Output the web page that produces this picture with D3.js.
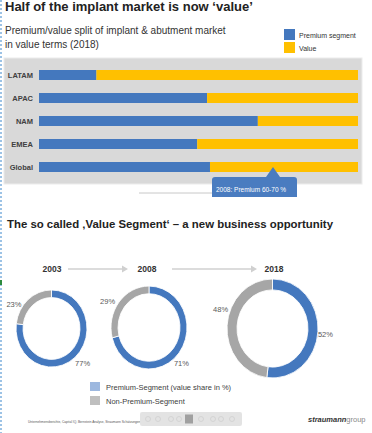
<!DOCTYPE html>
<html><head><meta charset="utf-8">
<script src="https://cdn.jsdelivr.net/npm/d3@7"></script>
<style>
html,body{margin:0;padding:0;background:#fff;}
svg{display:block;font-family:"Liberation Sans",Arial,sans-serif;}
</style></head>
<body>
<svg id="c" width="372" height="433"></svg>
<script>
// ---------- data ----------
const regions = ["LATAM", "APAC", "NAM", "EMEA", "Global"];
const premiumShare = [18, 52.7, 68.6, 49.6, 53.6];   // % premium (blue)
const valueShare = premiumShare.map(p => 100 - p);    // remainder (yellow)
const barLegend = ["Premium segment", "Value"];
const years = ["2003", "2008", "2018"];
const premiumByYear = [77, 71, 52];
const nonPremiumByYear = [23, 29, 48];
const donutLegend = ["Premium-Segment (value share in %)", "Non-Premium-Segment"];
const callout = "2008: Premium 60-70 %";

// ---------- styles ----------
const BLUE = "#4478be", YELLOW = "#ffc000", GREY = "#a6a6a6";
const svg = d3.select("#c");

// left dashed guide (slide editor)
svg.append("line").attr("x1",1).attr("x2",1).attr("y1",0).attr("y2",433)
  .attr("stroke","#5b9bd5").attr("stroke-width",1.2).attr("stroke-dasharray","2,2");
svg.append("rect").attr("x",0).attr("y",280).attr("width",2).attr("height",5).attr("fill","#2e8b3e");

// titles
svg.append("text").attr("x",5).attr("y",10.5).attr("font-size",13).attr("font-weight","bold")
  .attr("fill","#222").text("Half of the implant market is now \u2018value\u2019");
svg.append("text").attr("x",5).attr("y",34).attr("font-size",10).attr("fill","#333")
  .text("Premium/value split of implant & abutment market");
svg.append("text").attr("x",5).attr("y",48).attr("font-size",10).attr("fill","#333")
  .text("in value terms (2018)");

// top legend
const lg = svg.append("g");
barLegend.forEach((t,i)=>{
  lg.append("rect").attr("x",284).attr("y",29+i*13).attr("width",11).attr("height",11)
    .attr("fill",[BLUE,YELLOW][i]);
  lg.append("text").attr("x",299).attr("y",37.5+i*13).attr("font-size",7).attr("fill","#333").text(t);
});

// panel
svg.append("rect").attr("x",4).attr("y",58).attr("width",358).attr("height",126)
  .attr("fill","#d9d9d9").attr("stroke","#ececec").attr("stroke-width",1);

const x = d3.scaleLinear().domain([0,100]).range([39,358]);
const y = d3.scalePoint().domain(regions).range([75,167]);
const barH = 10;
const bars = svg.append("g");
regions.forEach((r,i)=>{
  bars.append("rect").attr("x",x(0)).attr("y",y(r)-barH/2).attr("width",x(premiumShare[i])-x(0))
    .attr("height",barH).attr("fill",BLUE);
  bars.append("rect").attr("x",x(premiumShare[i])).attr("y",y(r)-barH/2)
    .attr("width",x(premiumShare[i]+valueShare[i])-x(premiumShare[i])).attr("height",barH).attr("fill",YELLOW);
});
const yAxis = svg.append("g").attr("transform",`translate(${x(0)-5},0)`)
  .call(d3.axisLeft(y).tickSize(0).tickPadding(1));
yAxis.select(".domain").remove();
yAxis.selectAll("text").attr("font-size",7.5).attr("font-weight","bold").attr("fill","#404040")
  .attr("font-family","Liberation Sans, Arial, sans-serif");

// callout
svg.append("line").attr("x1",139).attr("x2",212).attr("y1",193).attr("y2",193).attr("stroke","#c8c8c8");
svg.append("path").attr("d","M212,180 Q212,177 215,177 L266,177 L273,167 L280,177 L294,177 Q297,177 297,180 L297,197 L212,197 Z")
  .attr("fill","#4a7cc0");
svg.append("text").attr("x",216).attr("y",191.5).attr("font-size",6.5).attr("fill","#fff").text(callout);

// section 2 title
svg.append("text").attr("x",7).attr("y",228).attr("font-size",11.4).attr("font-weight","bold")
  .attr("fill","#222").text("The so called \u201AValue Segment\u2018 \u2013 a new business opportunity");

// years + arrows
const yearCx = [52,147,274];
years.forEach((yr,i)=>{
  svg.append("text").attr("x",yearCx[i]).attr("y",272).attr("text-anchor","middle")
    .attr("font-size",8.5).attr("font-weight","bold").attr("fill","#333").text(yr);
});
const arrows = [[68,128],[172,257]];
arrows.forEach(a=>{
  svg.append("line").attr("x1",a[0]).attr("x2",a[1]-3).attr("y1",269).attr("y2",269)
    .attr("stroke","#d0d0d0").attr("stroke-width",1.5);
  svg.append("path").attr("d",`M${a[1]},269 L${a[1]-6},265.5 L${a[1]-6},272.5 Z`).attr("fill","#d0d0d0");
});

// donuts
const donutGeo = [
  {cx:51.5, cy:328.5, r:35.5, w:7, sy:1.085},
  {cx:149, cy:327.5, r:38, w:7, sy:1.09},
  {cx:272.5, cy:328.5, r:45.5, w:10, sy:1.088}
];
// manual label offsets from the default outside position (as placed on the slide)
const labelNudge = [
  [{dx:-6.5,dy:-2.5},{dx:0,dy:12.5}],
  [{dx:-13,dy:3.5},{dx:4,dy:5.5}],
  [{dx:-10,dy:1.7},{dx:11,dy:-15.5}]
];
const pie = d3.pie().sort(null).value(d=>d);
years.forEach((yr,i)=>{
  const g = donutGeo[i];
  const data = pie([premiumByYear[i], nonPremiumByYear[i]]);
  const arc = d3.arc().innerRadius(g.r-g.w).outerRadius(g.r);
  const gg = svg.append("g").attr("transform",`translate(${g.cx},${g.cy}) scale(1,${g.sy})`);
  gg.selectAll("path").data(data).join("path").attr("d",arc)
    .attr("fill",(d,j)=>j===0?BLUE:GREY).attr("stroke","#fff").attr("stroke-width",0.8);
  data.forEach((d,j)=>{
    const a = (d.startAngle+d.endAngle)/2;
    const R = g.r + 10;
    const px = g.cx + Math.sin(a)*R + labelNudge[i][j].dx;
    const py = g.cy - Math.cos(a)*R*g.sy + labelNudge[i][j].dy;
    svg.append("text").attr("x",px).attr("y",py).attr("dy","0.35em")
      .attr("text-anchor", Math.sin(a)>=0 ? "start":"end")
      .attr("font-size",7.5).attr("fill","#595959").text(d.data+"%");
  });
});

// bottom legend
donutLegend.forEach((t,i)=>{
  svg.append("rect").attr("x",90).attr("y",382+i*14).attr("width",10).attr("height",9)
    .attr("fill",["#9db8df","#bfbfbf"][i]);
  svg.append("text").attr("x",106).attr("y",389.5+i*14).attr("font-size",7.5).attr("fill","#404040").text(t);
});

// footer
svg.append("text").attr("x",28).attr("y",423).attr("font-size",3.2).attr("fill","#555")
  .text("Unternehmensberichte, Capital IQ, Bernstein Analyse, Straumann Sch\u00e4tzungen");
const tb = svg.append("g");
tb.append("rect").attr("x",140).attr("y",412).attr("width",102).attr("height",14).attr("rx",2)
  .attr("fill","#e0e0e0").attr("opacity",0.9);
tb.append("rect").attr("x",185).attr("y",414.5).attr("width",8).attr("height",9).attr("fill","#a0a0a0");
[148,158,171,179,201,213,221,232].forEach(cx=>{
  tb.append("circle").attr("cx",cx).attr("cy",419).attr("r",2.5).attr("fill","none").attr("stroke","#cfcfcf").attr("stroke-width",0.8);
});
const logo = svg.append("text").attr("x",308).attr("y",421.5).attr("font-size",7.5);
logo.append("tspan").attr("font-weight","bold").attr("font-style","italic").attr("fill","#333").text("straumann");
logo.append("tspan").attr("fill","#888").text("group");
</script>
</body></html>
